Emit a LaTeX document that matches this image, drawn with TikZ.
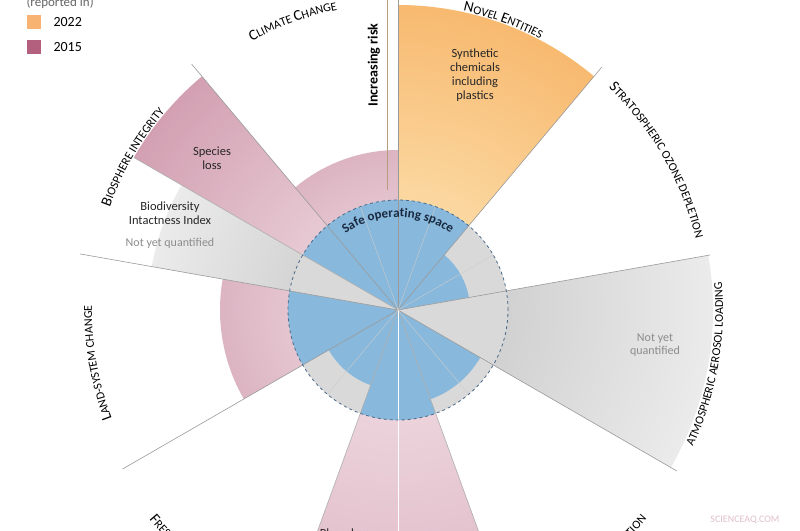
\documentclass[tikz,border=0pt]{standalone}
\usepackage{fontspec}
\setmainfont{Carlito}
\usetikzlibrary{decorations.text}
\definecolor{blu}{HTML}{88B8DC}
\definecolor{gry}{HTML}{D9D9D9}
\definecolor{lne}{HTML}{9A9A9A}
\definecolor{dsh}{HTML}{4A6A8A}
\definecolor{org}{HTML}{F28A24}
\definecolor{orgl}{HTML}{FDE9BC}
\definecolor{pnk}{HTML}{B3607E}
\definecolor{pnkl}{HTML}{F2E0E6}
\definecolor{navy}{HTML}{1A2A40}
\newcommand\sect[3]{(0,0) -- ({90-#1}:#3pt) arc[start angle={90-#1}, end angle={90-#2}, radius=#3pt] -- cycle}
\newcommand\gsect[5]{\begin{scope}\clip \sect{#1}{#2}{#3}; \shade[inner color=#4, outer color=#5] (0,0) circle ({2*#3pt});\end{scope}}
\newcommand\fsect[5]{\begin{scope}\clip \sect{#1}{#2}{#3}; \shade[inner color=#4, outer color=#5] (0,0) circle ({1.5*#3pt});\end{scope}}
\newcommand\outlab[2]{\path[decorate,decoration={text along path,text align=center,text={#2}}] ({90-#1+45}:306pt) arc[start angle={90-#1+45}, end angle={90-#1-45}, radius=306pt];}
\newcommand\inlab[2]{\path[decorate,decoration={text along path,text align=center,text={#2}}] ({90-#1-45}:325pt) arc[start angle={90-#1-45}, end angle={90-#1+45}, radius=325pt];}
\newcommand\Bg{|\fontsize{15}{15}\selectfont|}
\newcommand\Sm{|\fontsize{12}{12}\selectfont|}
\begin{document}
\begin{tikzpicture}[x=1pt,y=1pt,
  rad/.style={draw=lne,line width=0.6pt},
  lbl/.style={font=\fontsize{12.5}{14}\selectfont,align=center,text=black!85},
  nyq/.style={font=\fontsize{12}{13.5}\selectfont,align=center,text=black!45}]
\useasboundingbox (-398,310) rectangle (402,-220);
\clip (-398,310) rectangle (402,-220);
\fill[white] (-398,310) rectangle (402,-220);
% outer wedges
\gsect{0}{40}{305}{orgl}{org}
\fsect{80}{120}{315}{gry!90!black}{white}
\gsect{160}{200}{420}{pnkl}{pnk!85}
\gsect{240}{280}{178}{pnkl}{pnk!75}
\fsect{280}{300}{250}{gry!90!black}{white}
\gsect{300}{320}{305}{pnkl}{pnk}
\gsect{320}{360}{160}{pnkl}{pnk!75}
% inner circle
\fill[gry] (0,0) circle (110pt);
\fill[blu] \sect{320}{360}{110};
\fill[blu] \sect{0}{40}{110};
\fill[blu] \sect{40}{80}{72};
\fill[blu] \sect{120}{160}{95};
\fill[blu] \sect{160}{200}{110};
\fill[blu] \sect{200}{240}{80};
\fill[blu] \sect{240}{280}{110};
\fill[blu] \sect{300}{320}{110};
\fill[gry] \sect{80}{120}{110};
\fill[gry] \sect{280}{300}{110};
% radial lines
\foreach \t/\r in {0/320,40/317,80/317,120/322,240/318,280/323,320/321}
  \draw[rad] (0,0) -- ({90-\t}:\r pt);
\foreach \t/\r in {160/420,200/420,300/305}
  \draw[rad,draw=lne!80] (0,0) -- ({90-\t}:\r pt);
\draw[white,line width=0.8pt] (0,0) -- (-90:420pt);
\foreach \t in {20,60,140,220,340}
  \draw[lne!50,line width=0.4pt] (0,0) -- ({90-\t}:110pt);
\draw[dsh,dashed,line width=0.8pt] (0,0) circle (110pt);
% safe operating space
\path[decorate,decoration={text along path,text align=center,text={|\bfseries\fontsize{13}{13}\selectfont\color{navy}|Safe operating space}}] (155:93pt) arc[start angle=155,end angle=25,radius=93pt];
% increasing risk
\draw[draw=black!30!brown!60,line width=0.7pt] (-11,120) -- (-11,312);
\node[rotate=90,font=\bfseries\fontsize{14}{14}\selectfont] (risk) at (-24,245) {Increasing risk};
% labels
\outlab{340}{\Bg C\Sm LIMATE \Bg C\Sm HANGE}
\outlab{20}{\Bg N\Sm OVEL \Bg E\Sm NTITIES}
\outlab{60}{\Bg S\Sm TRATOSPHERIC OZONE DEPLETION}
\inlab{100}{\Sm ATMOSPHERIC AEROSOL LOADING}
\inlab{140}{\Bg O\Sm CEAN ACIDIFICATION}
\inlab{220}{\Bg F\Sm RESHWATER CHANGE}
\outlab{260}{\Bg L\Sm AND-SYSTEM CHANGE}
\outlab{300}{\Bg B\Sm IOSPHERE INTEGRITY}
\node[lbl] (syn) at (77,235) {Synthetic\\chemicals\\including\\plastics};
\node[lbl] (sp) at (-186,152) {Species\\loss};
\node[lbl] (bii) at (-228,97) {Biodiversity\\Intactness Index};
\node[nyq] (bii2) at (-228,67) {Not yet quantified};
\node[nyq] (aer) at (257,-35) {Not yet\\quantified};
\node[lbl] (ph) at (-48,-224) {Phosphorus};
% legend
\node[font=\fontsize{13}{13}\selectfont,text=black!60,anchor=west] (rep) at (-375,307) {(reported in)};
\fill[org!65] (-371,281) rectangle (-357,295);
\node[font=\fontsize{14}{14}\selectfont,anchor=west] (l1) at (-348,288) {2022};
\fill[pnk] (-371,256) rectangle (-357,270);
\node[font=\fontsize{14}{14}\selectfont,anchor=west] (l2) at (-348,263) {2015};
\node[font=\fontsize{10}{10}\selectfont,text=pnk!40] (wm) at (347,-210) {SCIENCEAQ.COM};
\end{tikzpicture}
\end{document}
